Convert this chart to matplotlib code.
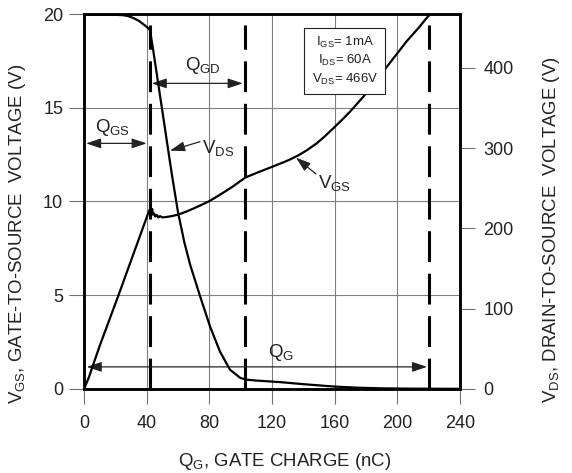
import matplotlib.pyplot as plt

plt.rcParams['font.family'] = ['Liberation Sans', 'DejaVu Sans']
plt.rcParams['mathtext.default'] = 'regular'

# gate-to-source voltage vs gate charge (left axis, V)
qg_vgs = [0, 3, 10, 22, 35, 41.5, 42.0, 42.5, 43.0, 43.5, 44.0, 44.8, 45.5,
          46.5, 47.5, 48.5, 50, 53, 56, 60, 65, 70, 75, 80, 85, 90, 95, 100,
          103, 110, 117, 124, 131, 137, 142, 148.5, 154, 160.2, 165, 169.8,
          178.3, 186.8, 195.3, 206, 214.5, 218, 221, 240]
vgs = [0, 0.6, 2.3, 5.0, 8.0, 9.5, 9.55, 9.75, 9.45, 9.6, 9.3, 9.35, 9.2,
       9.28, 9.15, 9.22, 9.15, 9.18, 9.22, 9.3, 9.45, 9.63, 9.82, 10.02,
       10.27, 10.53, 10.8, 11.1, 11.28, 11.52, 11.75, 11.98, 12.22, 12.47,
       12.72, 13.1, 13.5, 13.99, 14.38, 14.79, 15.59, 16.48, 17.4, 18.55,
       19.35, 19.72, 20.0, 20.0]

# drain-to-source voltage vs gate charge (right axis, V)
qg_vds = [0, 20, 25, 28, 31.5, 35, 38, 40, 42.1, 44, 48, 52, 56, 60, 64,
          67.7, 74, 80.4, 86.8, 93.2, 99.6, 103, 110, 125, 140, 160, 175,
          190, 210, 240]
vds = [466, 466, 465.5, 464.5, 462, 458.5, 454, 451, 447, 424, 372, 320,
       268, 220, 183, 155, 116, 78, 46.5, 24, 14, 11.8, 10.5, 8.6, 6.0, 3.0,
       1.6, 0.8, 0.4, 0.2]

x_ticks = [0, 40, 80, 120, 160, 200, 240]
vgs_ticks = [0, 5, 10, 15, 20]
vds_ticks = [0, 100, 200, 300, 400]
q_marks = [42, 103, 220]
test_conditions = ["I$_{GS}$= 1mA", "I$_{DS}$= 60A", "V$_{DS}$= 466V"]

fig = plt.figure(figsize=(5.72, 4.73), dpi=100)
ax = fig.add_axes([0.1469, 0.1776, 0.6573, 0.7928])
ax2 = ax.twinx()

ax.set_xlim(0, 240)
ax.set_ylim(0, 20)
ax2.set_ylim(0, 467)
ax.set_xticks(x_ticks)
ax.set_yticks(vgs_ticks)
ax2.set_yticks(vds_ticks)
ax.grid(True, color='#808080', lw=0.8)
ax.set_axisbelow(True)

ax.tick_params(axis='both', direction='out', length=11, width=0.8,
               color='#707070', labelsize=13, colors='#222222')
ax.tick_params(axis='x', pad=8)
ax.tick_params(axis='y', pad=4)
ax2.tick_params(axis='y', direction='out', length=11, width=0.8,
                color='#707070', labelsize=13, colors='#222222', pad=6)
for a in (ax, ax2):
    for s in a.spines.values():
        s.set_linewidth(1.8)

for q in q_marks:
    ax.plot([q, q], [0, 19.4], color='black', lw=2.2,
            linestyle=(0, (10.1, 3.8)), zorder=3)

ax.plot(qg_vgs, vgs, color='black', lw=1.6, zorder=4)
ax2.plot(qg_vds, vds, color='black', lw=1.6, zorder=4)

arrow2 = dict(arrowstyle='<|-|>,head_length=0.9,head_width=0.3',
              color='#222222', lw=0.9, shrinkA=0, shrinkB=0, mutation_scale=10)
ax.annotate('', xy=(1.3, 13.1), xytext=(40, 13.1), arrowprops=arrow2)
ax.annotate('', xy=(43.2, 16.3), xytext=(101.3, 16.3), arrowprops=arrow2)
ax.annotate('', xy=(1.7, 1.18), xytext=(219, 1.18), arrowprops=arrow2)

ax.text(7, 13.7, "Q$_{GS}$", fontsize=13.5, color='#222222')
ax.text(64.5, 17.0, "Q$_{GD}$", fontsize=13.5, color='#222222')
ax.text(117.4, 1.7, "Q$_{G}$", fontsize=13.5, color='#222222')

arrow1 = dict(arrowstyle='-|>,head_length=0.9,head_width=0.3',
              color='#222222', lw=0.9, shrinkA=0, shrinkB=0, mutation_scale=10)
ax.text(75.1, 12.57, "V$_{DS}$", fontsize=13.5, color='#222222')
ax.annotate('', xy=(54.9, 12.71), xytext=(74, 13.19), arrowprops=arrow1)
ax.text(149.5, 10.7, "V$_{GS}$", fontsize=13.5, color='#222222')
ax.annotate('', xy=(135.3, 12.34), xytext=(148, 11.47), arrowprops=arrow1)

ax.text(166.5, 17.5, "\n".join(test_conditions), fontsize=9.5, ha='center',
        va='center', multialignment='center', color='#222222', zorder=5,
        linespacing=1.3,
        bbox=dict(boxstyle='square,pad=0.55', fc='white', ec='#222222', lw=0.8))

ax.set_xlabel("Q$_G$, GATE CHARGE (nC)", fontsize=13.4, color='#222222')
ax.xaxis.set_label_coords(0.535, -0.165)
ax.set_ylabel("V$_{GS}$, GATE-TO-SOURCE  VOLTAGE (V)", fontsize=13.4,
              color='#222222')
ax.yaxis.set_label_coords(-0.15, 0.413)
ax2.set_ylabel("V$_{DS}$, DRAIN-TO-SOURCE  VOLTAGE (V)", fontsize=13.4,
               color='#222222')
ax2.yaxis.set_label_coords(1.215, 0.424)

fig.savefig("out.png", dpi=100)
